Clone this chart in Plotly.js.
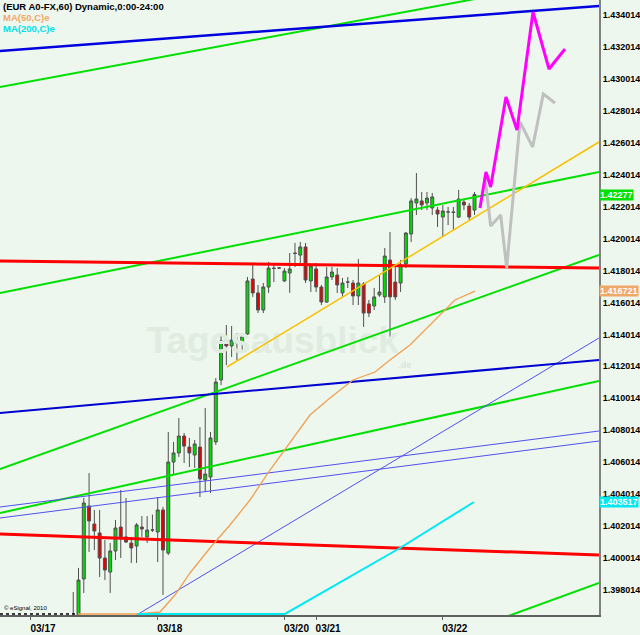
<!DOCTYPE html>
<html><head><meta charset="utf-8">
<script src="https://cdn.plot.ly/plotly-3.0.1.min.js"></script>
<style>html,body{margin:0;padding:0;background:#eef7ee;} #chart{width:640px;height:635px;}</style>
</head><body><div id="chart"></div>
<script>
// ---- data (bar index = hourly bar counted from the 03/17 tick) ----
const firstBar = 8;
const opens  = [1.39620,1.39640,1.39870,1.40327,1.40214,1.40158,1.40001,1.39913,1.40045,1.40195,1.40133,1.40095,1.40076,1.40195,1.40133,1.40176,1.40164,1.40302,1.40032,1.40602,1.40659,1.40765,1.40696,1.40646,1.40696,1.40490,1.40508,1.40728,1.41116,1.41372,1.41329,1.41347,1.41341,1.41404,1.41748,1.41661,1.41554,1.41698,1.41817,1.41817,1.41736,1.41786,1.41911,1.41898,1.41949,1.41736,1.41811,1.41698,1.41604,1.41761,1.41773,1.41661,1.41729,1.41723,1.41642,1.41717,1.41592,1.41579,1.41648,1.41636,1.41867,1.41729,1.41723,1.41842,1.42030,1.42224,1.42237,1.42224,1.42193,1.42180,1.42136,1.42168,1.42168,1.42136,1.42230,1.42205,1.42180];
const highs  = [1.39788,1.39939,1.40377,1.40533,1.40302,1.40302,1.40114,1.40095,1.40239,1.40427,1.40377,1.40133,1.40220,1.40264,1.40264,1.40273,1.40383,1.40321,1.40790,1.40728,1.40878,1.40784,1.40753,1.40740,1.40821,1.40940,1.40790,1.41128,1.41410,1.41460,1.41454,1.41410,1.41410,1.41761,1.41836,1.41711,1.41723,1.41855,1.41836,1.41824,1.41817,1.41911,1.41974,1.41980,1.41974,1.41836,1.41848,1.41711,1.41823,1.41823,1.41817,1.41755,1.41761,1.41742,1.41873,1.41729,1.41617,1.41692,1.41773,1.41942,1.42043,1.41823,1.41867,1.42043,1.42255,1.42412,1.42293,1.42293,1.42287,1.42199,1.42212,1.42199,1.42199,1.42306,1.42243,1.42224,1.42293];
const lows   = [1.39600,1.39600,1.39782,1.40039,1.40051,1.39882,1.39863,1.39782,1.39989,1.40001,1.40095,1.39970,1.39970,1.40133,1.40095,1.40164,1.39976,1.39769,1.40020,1.40521,1.40634,1.40596,1.40571,1.40565,1.40383,1.40414,1.40408,1.40709,1.41084,1.41210,1.41260,1.41241,1.41285,1.41398,1.41636,1.41535,1.41535,1.41661,1.41729,1.41811,1.41729,1.41661,1.41823,1.41848,1.41723,1.41667,1.41667,1.41585,1.41598,1.41742,1.41661,1.41636,1.41692,1.41585,1.41585,1.41448,1.41510,1.41554,1.41636,1.41598,1.41385,1.41617,1.41667,1.41817,1.41980,1.42149,1.42180,1.42180,1.42149,1.42074,1.42011,1.42086,1.42055,1.42130,1.42180,1.42118,1.42149];
const closes = [1.39630,1.39863,1.40346,1.40233,1.40170,1.40001,1.39926,1.40045,1.40189,1.40133,1.40101,1.40064,1.40208,1.40183,1.40176,1.40177,1.40302,1.40051,1.40602,1.40659,1.40765,1.40702,1.40659,1.40715,1.40496,1.40527,1.40753,1.41103,1.41360,1.41329,1.41366,1.41347,1.41391,1.41736,1.41661,1.41554,1.41698,1.41817,1.41814,1.41817,1.41798,1.41811,1.41908,1.41949,1.41742,1.41830,1.41698,1.41604,1.41761,1.41792,1.41711,1.41723,1.41729,1.41642,1.41723,1.41535,1.41535,1.41636,1.41667,1.41892,1.41636,1.41636,1.41836,1.42036,1.42237,1.42249,1.42212,1.42255,1.42262,1.42155,1.42174,1.42168,1.42165,1.42249,1.42212,1.42136,1.42277];

const dateTickBars   = [0, 24, 48, 54, 78];
const dateTickLabels = ['03/17', '03/18', '03/20', '03/21', '03/22'];
const priceTicks = [1.398014,1.400014,1.402014,1.404014,1.406014,1.408014,1.410014,1.412014,1.414014,1.416014,1.418014,1.420014,1.422014,1.424014,1.426014,1.428014,1.430014,1.432014,1.434014];

const ma50Bars   = [8.90, 20.08, 24.43, 27.27, 30.11, 33.90, 37.69, 41.48, 45.27, 49.05, 52.84, 56.63, 60.98, 65.15, 67.99, 71.78, 75.57, 80.30, 84.09];
const ma50Values = [1.396505,1.396505,1.396629,1.397694,1.399072,1.400637,1.402078,1.403643,1.405522,1.407275,1.408966,1.410031,1.411157,1.411658,1.412410,1.413349,1.414601,1.416167,1.416721];
const ma200Bars   = [20.08, 48.11, 69.89, 83.90];
const ma200Values = [1.396505, 1.396505, 1.400637, 1.403517];
const offscaleBars   = [-5.87, 8.90];
const offscaleValues = [1.396505, 1.396505];

const forecastPinkBars   = [85.04, 86.17, 87.06, 89.96, 92.05, 95.08, 98.11, 101.14];
const forecastPinkValues = [1.421928,1.424182,1.423242,1.428879,1.426812,1.434202,1.430632,1.431885];
const forecastGrayBars   = [85.98, 87.06, 88.96, 90.09, 92.61, 95.02, 97.03, 99.24];
const forecastGrayValues = [1.423869,1.420801,1.421490,1.418171,1.427313,1.425748,1.429067,1.428504];

const redUpperBars = [-5.87, 107.58],  redUpperValues = [1.418609, 1.418171];
const redLowerBars = [-5.87, 107.58],  redLowerValues = [1.401514, 1.400199];
const blueTopBars  = [-5.87, 107.58],  blueTopValues  = [1.431759, 1.434577];
const blueMidBars  = [-5.87, 107.58],  blueMidValues  = [1.409091, 1.412410];
const thinBlueABars = [-5.87, 107.58], thinBlueAValues = [1.403205, 1.407964];
const thinBlueBBars = [-5.87, 107.58], thinBlueBValues = [1.402516, 1.407338];
const thinBlueCBars = [18.75, 107.58], thinBlueCValues = [1.396192, 1.413787];
const greenTopBars  = [-5.87, 107.58], greenTopValues  = [1.429505, 1.436456];
const greenUpBars   = [-5.87, 107.58], greenUpValues   = [1.416605, 1.424182];
const greenMidBars  = [-5.87, 107.58], greenMidValues  = [1.405585, 1.418985];
const greenLowBars  = [-5.87, 107.58], greenLowValues  = [1.402829, 1.411095];
const greenBotBars  = [88.83, 107.58], greenBotValues  = [1.396192, 1.398445];
const yellowBars    = [37.12, 107.58], yellowValues    = [1.411972, 1.426061];

const lastClose = 1.42277, lastMa50 = 1.416721, lastMa200 = 1.403517;
const xRange = [-5.87, 107.58];
const yRange = [1.396442, 1.434953];

// ---- drawing ----
const barX = opens.map((_, k) => firstBar + k);
function line(x, y, color, width, dash) {
  return {type: 'scatter', mode: 'lines', x: x, y: y, hoverinfo: 'skip',
          line: {color: color, width: width, dash: dash || 'solid'}};
}
const traces = [
  {type: 'scatter', mode: 'text', x: [45.8], y: [1.41345], text: ['Tagesausblick'],
   textfont: {family: 'Liberation Sans', size: 37, color: '#e1ece1', weight: 'bold'}, hoverinfo: 'skip'},
  {type: 'scatter', mode: 'text', x: [70.8], y: [1.41205], text: ['.de'],
   textfont: {family: 'Liberation Sans', size: 9, color: '#d8e6d8', weight: 'bold'}, hoverinfo: 'skip'},
  line(greenTopBars, greenTopValues, '#00e000', 2),
  line(greenUpBars, greenUpValues, '#00e000', 2),
  line(greenMidBars, greenMidValues, '#00e000', 2),
  line(greenLowBars, greenLowValues, '#00e000', 2),
  line(greenBotBars, greenBotValues, '#00e000', 2),
  line(thinBlueABars, thinBlueAValues, '#5050f0', 1),
  line(thinBlueBBars, thinBlueBValues, '#5050f0', 1),
  line(thinBlueCBars, thinBlueCValues, '#5050f0', 1),
  line(blueMidBars, blueMidValues, '#0000d0', 2),
  line(blueTopBars, blueTopValues, '#0000e0', 2.5),
  line(redUpperBars, redUpperValues, '#ff0000', 3),
  line(redLowerBars, redLowerValues, '#ff0000', 3),
  line(yellowBars, yellowValues, '#f8c000', 1.5),
  line(offscaleBars, offscaleValues, '#000000', 1.5, 'dot'),
  line(ma50Bars, ma50Values, '#f0a050', 1.3),
  line(ma200Bars, ma200Values, '#00e8f0', 2),
  {type: 'candlestick', x: barX, open: opens, high: highs, low: lows, close: closes,
   whiskerwidth: 0, hoverinfo: 'skip',
   increasing: {fillcolor: '#00dd00', line: {color: '#505050', width: 1}},
   decreasing: {fillcolor: '#e80000', line: {color: '#505050', width: 1}}},
  line(forecastGrayBars, forecastGrayValues, '#c0c0c0', 3),
  line(forecastPinkBars, forecastPinkValues, '#ff00ff', 3)
];

function priceBox(v, bg, txt) {
  return {xref: 'paper', yref: 'y', x: 1, y: v, xanchor: 'left', yanchor: 'middle', xshift: 0,
          text: '<b>' + txt + '</b>', showarrow: false, bgcolor: bg, borderpad: 0,
          font: {family: 'Liberation Sans', size: 9, color: '#ffffff'}};
}
function topLabel(txt, row, color) {
  return {xref: 'paper', yref: 'paper', x: 0, y: 1, xanchor: 'left', yanchor: 'top',
          xshift: 1, yshift: 1 - row * 11, showarrow: false, text: '<b>' + txt + '</b>',
          font: {family: 'Liberation Sans', size: 9.5, color: color}};
}
const layout = {
  width: 640, height: 635,
  margin: {l: 0, r: 41, t: 0, b: 20},
  paper_bgcolor: '#eef7ee', plot_bgcolor: '#eef7ee',
  showlegend: false, boxgap: 0.2,
  font: {family: 'Liberation Sans', size: 10, color: '#000'},
  xaxis: {range: xRange, tickvals: dateTickBars, ticktext: dateTickLabels,
          showgrid: false, zeroline: false, showline: true, linecolor: '#606060', linewidth: 2,
          ticks: 'outside', ticklen: 3, tickcolor: '#606060', ticklabelshift: 12,
          tickfont: {family: 'Liberation Sans', size: 10, color: '#000', weight: 'bold'},
          rangeslider: {visible: false}, fixedrange: true},
  yaxis: {side: 'right', range: yRange, tickvals: priceTicks, tickformat: '.6f',
          showgrid: false, zeroline: false, showline: true, linecolor: '#808080', linewidth: 2,
          ticks: '', tickfont: {family: 'Liberation Sans', size: 9, color: '#000', weight: 'bold'},
          fixedrange: true},
  annotations: [
    priceBox(lastClose, '#00e000', lastClose.toFixed(5)),
    priceBox(lastMa50, '#f0a868', lastMa50.toFixed(6)),
    priceBox(lastMa200, '#00e8f0', lastMa200.toFixed(6)),
    topLabel('(EUR A0-FX,60) Dynamic,0:00-24:00', 0, '#000000'),
    topLabel('MA(50,C)e', 1, '#f0a868'),
    topLabel('MA(200,C)e', 2, '#00e0e8'),
    {xref: 'paper', yref: 'paper', x: 0, y: 0, xanchor: 'left', yanchor: 'bottom', xshift: 2, yshift: 2,
     showarrow: false, text: '© eSignal, 2010', font: {family: 'Liberation Sans', size: 6, color: '#000'}}
  ]
};
Plotly.newPlot('chart', traces, layout, {staticPlot: true, displayModeBar: false});
</script></body></html>
